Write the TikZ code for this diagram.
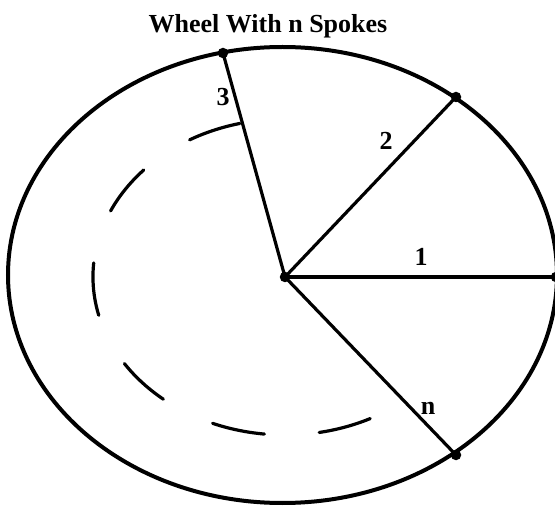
\documentclass[tikz,border=0pt]{standalone}
\usepackage{fontspec}
\setmainfont{Liberation Serif}
\usepackage{tikz}
\usetikzlibrary{positioning}

\begin{document}
\begin{tikzpicture}[
        x=1pt,y=1pt,
        every node/.style={font=\fontsize{26}{30}\selectfont\bfseries,inner sep=0pt},
        rim/.style={draw=black,line width=4pt},
        spoke/.style={draw=black,line width=3.2pt},
        hubdot/.style={circle,fill=black,minimum size=10.5pt},
        ghost/.style={draw=black,line width=3.2pt,line cap=round,dash pattern=on 53pt off 55pt},
      ]
      \useasboundingbox (0,0) rectangle (555,507);
      \node (title) at (268,481) {Wheel With n Spokes};
      \draw[rim] (282.5,232) ellipse [x radius=274.5, y radius=228];
      % hub and rim points
      \node[hubdot] (hub) at (285,230) {};
      \node[hubdot] (s1) at (556,230) {};
      \node[hubdot] (s2) at (456,410) {};
      \node[hubdot] (s3) at (223,454) {};
      \node[hubdot] (sn) at (456,52) {};
      \draw[spoke] (hub.center)--(s1.center); \draw[spoke] (hub.center)--(s2.center);
      \draw[spoke] (hub.center)--(s3.center); \draw[spoke] (hub.center)--(sn.center);
      \node (l1) at (421,250) {1};
      \node (l2) at (386,366) {2};
      \node (l3) at (223,410) {3};
      \node (ln) at (428,99) {n};
      % the spokes left out
      \draw[ghost] (hub.center) ++(103.6:192 and 158) arc [start angle=103.6, end angle=297, x radius=192, y radius=158];
    \end{tikzpicture}
\end{document}
